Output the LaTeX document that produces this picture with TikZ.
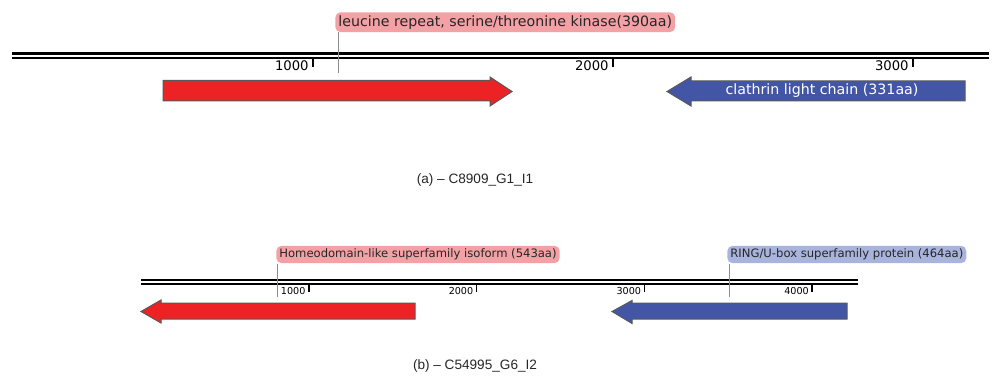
\documentclass[tikz,border=0pt]{standalone}
\usepackage{fontspec}
\setmainfont{Liberation Sans}
\newfontfamily\verd{DejaVu Sans}
\usepackage{xcolor}
\usepackage{tikz}
\usetikzlibrary{positioning,calc}

\definecolor{genered}{HTML}{ED2224}
\definecolor{geneblue}{HTML}{4356A6}
\definecolor{tagred}{HTML}{F4A1A5}
\definecolor{tagblue}{HTML}{A9B4DE}

\tikzset{
  tag/.style={rounded corners=2.5pt,inner xsep=1.5pt,inner ysep=1.5pt,anchor=south west,text=black!85},
  leader/.style={draw=black!45,line width=0.4pt},
  gene/.style={draw=black!65,line width=0.5pt},
  ticka/.style={line width=1pt},
  tickb/.style={line width=0.8pt},
  caption/.style={font=\fontsize{6.8}{8}\selectfont,text=black!85}
}

\begin{document}
\begin{tikzpicture}[x=0.5pt,y=-0.5pt]
\useasboundingbox (0,0) rectangle (1000,385);

% (a) contig
\draw[line width=1.25pt] (12,53.3) -- (989,53.3);
\draw[line width=1.25pt] (12,58) -- (989,58);
\foreach \k in {1,2,3}{
  \draw[ticka] ({13+300*\k},59) -- ++(0,8.5);
  \node[anchor=base east,inner sep=0pt,font=\verd\fontsize{6.6}{7}\selectfont] (ta\k) at ({9+300*\k},71) {\k000};
}
\draw[gene,fill=genered] (163,80.5) -- (490,80.5) -- (490,77) -- (512,91.5) -- (490,106) -- (490,101) -- (163,101) -- cycle;
\draw[gene,fill=geneblue] (965,81) -- (691,81) -- (691,77) -- (667,91.5) -- (691,106) -- (691,101) -- (965,101) -- cycle;
\node[font=\verd\fontsize{7.1}{8}\selectfont,text=white] (clath) at (822,91) {clathrin light chain (331aa)};
\node[tag,fill=tagred,font=\verd\fontsize{7.1}{8}\selectfont] (kinase) at (335,32.5) {leucine repeat, serine/threonine kinase(390aa)};
\coordinate (kinpin) at (338,73);
\draw[leader] (kinpin) -- (kinpin |- kinase.south);
\node[caption] (capa) at (475,180) {(a) -- C8909\_G1\_I1};

% (b) contig
\draw[line width=0.85pt] (141,280.3) -- (858,280.3);
\draw[line width=0.85pt] (141,284.3) -- (858,284.3);
\foreach \k in {1,2,3,4}{
  \draw[tickb] ({141+167.8*\k},285) -- ++(0,6.5);
  \node[anchor=base east,inner sep=0pt,font=\verd\fontsize{4.8}{5}\selectfont] (tb\k) at ({138+167.8*\k},294) {\k000};
}
\draw[gene,fill=genered] (415,303) -- (161,303) -- (161,300) -- (141,311.5) -- (161,323) -- (161,319) -- (415,319) -- cycle;
\draw[gene,fill=geneblue] (847,303) -- (632,303) -- (632,300.5) -- (612,311.5) -- (632,323.5) -- (632,319) -- (847,319) -- cycle;
\node[tag,fill=tagred,font=\verd\fontsize{5.8}{6}\selectfont] (homeo) at (276,263.5) {Homeodomain-like superfamily isoform (543aa)};
\node[tag,fill=tagblue,font=\verd\fontsize{5.8}{6}\selectfont] (ring) at (727,263.5) {RING/U-box superfamily protein (464aa)};
\coordinate (homeopin) at (277,297);
\coordinate (ringpin) at (729,297);
\draw[leader] (homeopin) -- (homeopin |- homeo.south);
\draw[leader] (ringpin) -- (ringpin |- ring.south);
\node[caption] (capb) at (475,366) {(b) -- C54995\_G6\_I2};
\end{tikzpicture}
\end{document}
